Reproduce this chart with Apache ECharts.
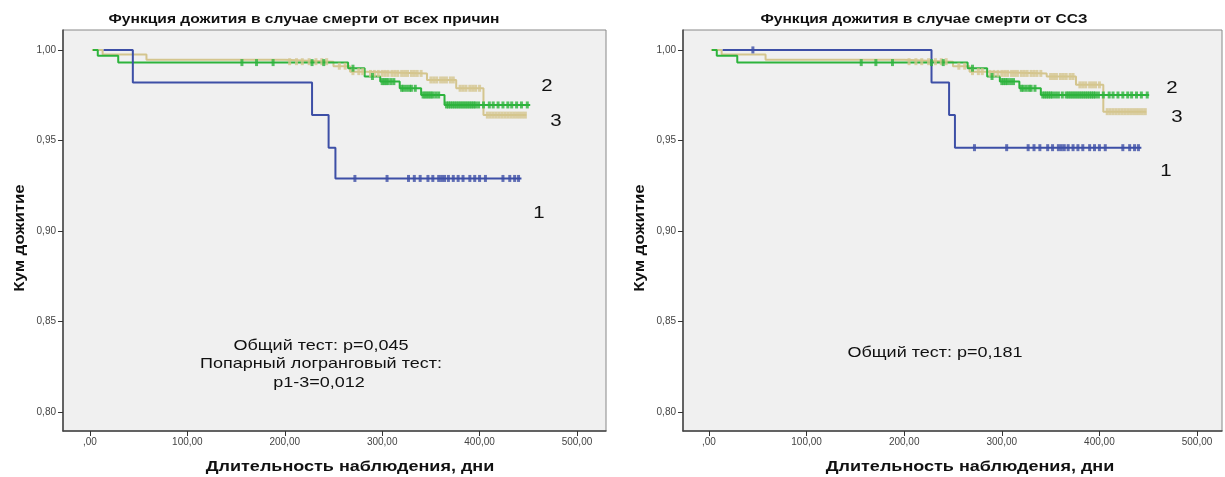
<!DOCTYPE html>
<html>
<head>
<meta charset="utf-8">
<script src="https://cdn.jsdelivr.net/npm/echarts@6/dist/echarts.min.js"></script>
<style>
html,body{margin:0;padding:0;background:#fff;}
#c{width:1225px;height:477px;}
</style>
</head>
<body>
<div id="c"></div>
<script>
// ---- Data (days, cumulative survival) ----
const xTicks = [0, 100, 200, 300, 400, 500];
const yTicks = [0.80, 0.85, 0.90, 0.95, 1.00];

// Left panel: all-cause death
const leftBlueT = [14, 44, 228, 245, 252, 443];
const leftBlueS = [1.000, 0.982, 0.964, 0.946, 0.929, 0.929];
const leftBlueCens = [272, 305, 327, 333, 339, 347, 352, 358, 361, 364, 368, 373, 378, 383, 390, 395, 400, 406, 424, 431, 436, 440];

const leftGreenT = [3, 8, 29, 265, 282, 298, 318, 340, 364, 452];
const leftGreenS = [1.000, 0.9968, 0.993, 0.9899, 0.9853, 0.9825, 0.9788, 0.9751, 0.9696, 0.9696];
const leftGreenCens = [156, 171, 188, 228, 240, 270, 290, 300, 302, 304, 306, 309, 312, 320, 322, 325, 328, 330, 334, 342, 344, 346, 348, 350, 352, 355, 358, 366, 368, 370, 372, 374, 376, 378, 380, 382, 384, 386, 388, 390, 392, 394, 396, 399, 404, 410, 414, 419, 424, 429, 433, 438, 443, 449];

const leftTanT = [2, 13, 58, 200, 250, 267, 284, 346, 376, 404, 448];
const leftTanS = [1.000, 0.9975, 0.9945, 0.9935, 0.991, 0.988, 0.987, 0.9834, 0.9788, 0.964, 0.964];
const leftTanCens = [205, 212, 218, 225, 232, 238, 243, 256, 262, 270, 276, 280, 288, 292, 296, 300, 303, 306, 310, 313, 316, 320, 323, 326, 330, 333, 336, 340, 350, 353, 356, 360, 363, 366, 370, 373, 380, 383, 386, 390, 393, 396, 400, 408, 411, 414, 417, 420, 423, 426, 429, 432, 435, 438, 441, 444, 447];

// Right panel: CVD death
const rightBlueT = [14, 228, 246, 252, 443];
const rightBlueS = [1.000, 0.982, 0.964, 0.946, 0.946];
const rightBlueCens = [45, 272, 305, 327, 333, 339, 347, 352, 358, 361, 364, 368, 373, 378, 383, 390, 395, 400, 406, 424, 431, 436, 440];

const rightGreenT = [3, 8, 29, 265, 285, 298, 318, 340, 451];
const rightGreenS = [1.000, 0.9968, 0.993, 0.9899, 0.9853, 0.9825, 0.9788, 0.9751, 0.9751];
const rightGreenCens = [156, 171, 188, 228, 240, 270, 290, 300, 302, 304, 306, 309, 312, 320, 322, 325, 328, 330, 334, 342, 344, 346, 348, 350, 352, 355, 358, 362, 366, 368, 370, 372, 374, 376, 378, 380, 382, 384, 386, 388, 390, 392, 394, 396, 399, 404, 410, 414, 419, 424, 429, 433, 438, 443, 449];

const rightTanT = [2, 13, 58, 200, 250, 267, 284, 346, 376, 404, 448];
const rightTanS = [1.000, 0.9975, 0.9945, 0.9935, 0.991, 0.988, 0.987, 0.9853, 0.9807, 0.9659, 0.9659];
const rightTanCens = [205, 212, 218, 225, 232, 238, 243, 256, 262, 270, 276, 280, 288, 292, 296, 300, 303, 306, 310, 313, 316, 320, 323, 326, 330, 333, 336, 340, 350, 353, 356, 360, 363, 366, 370, 373, 380, 383, 386, 390, 393, 396, 400, 408, 411, 414, 417, 420, 423, 426, 429, 432, 435, 438, 441, 444, 447];

// ---- helpers ----
const BLUE = '#3d4fa6', GREEN = '#2db33c', TAN = '#d4c58e';
function stepAt(T, S, t) {
  let v = S[0];
  for (let i = 0; i < T.length; i++) { if (T[i] <= t) v = S[i]; }
  return v;
}
function curve(T, S, color, idx) {
  return {
    type: 'line', step: 'end', xAxisIndex: idx, yAxisIndex: idx,
    data: T.map((t, i) => [t, S[i]]), symbol: 'none',
    lineStyle: { color: color, width: 2 }, animation: false, z: 3
  };
}
function cens(T, S, C, color, idx) {
  return {
    type: 'scatter', xAxisIndex: idx, yAxisIndex: idx,
    data: C.map(t => [t, stepAt(T, S, t)]),
    symbol: 'rect', symbolSize: [3, 7],
    itemStyle: { color: color }, animation: false, z: 4
  };
}
const fmtX = v => v === 0 ? ',00' : v.toFixed(2).replace('.', ',');
const fmtY = v => v.toFixed(2).replace('.', ',');
function xAx(idx, min, max) {
  return {
    gridIndex: idx, type: 'value', min: min, max: max,
    axisLine: { show: true, onZero: false, lineStyle: { color: '#444', width: 1.5 } },
    axisTick: { show: true, customValues: xTicks, length: 5, lineStyle: { color: '#333' } },
    axisLabel: { customValues: xTicks, formatter: fmtX, color: '#444', fontSize: 10, fontFamily: 'Liberation Sans', margin: 6 },
    splitLine: { show: false }
  };
}
function yAx(idx) {
  return {
    gridIndex: idx, type: 'value', min: 0.7895, max: 1.011,
    axisLine: { show: true, onZero: false, lineStyle: { color: '#444', width: 1.5 } },
    axisTick: { show: true, customValues: yTicks, length: 5, lineStyle: { color: '#333' } },
    axisLabel: { customValues: yTicks, formatter: fmtY, color: '#444', fontSize: 10, fontFamily: 'Liberation Sans', margin: 7 },
    splitLine: { show: false }
  };
}
function txt(x, y, s, size, bold, rot, sx) {
  return {
    type: 'text', x: x, y: y, rotation: rot || 0, scaleX: sx || 1.2,
    style: { text: s, fontSize: size, fontWeight: bold ? 'bold' : 'normal', fontFamily: 'Liberation Sans',
      fill: '#111', textAlign: 'center', textVerticalAlign: 'middle' }
  };
}

const chart = echarts.init(document.getElementById('c'), null, { renderer: 'canvas' });
chart.setOption({
  backgroundColor: '#fff',
  animation: false,
  grid: [
    { left: 63, top: 30, width: 543, height: 401, show: true, backgroundColor: '#f0f0f0', borderColor: '#888', borderWidth: 1 },
    { left: 683, top: 30, width: 539, height: 401, show: true, backgroundColor: '#f0f0f0', borderColor: '#888', borderWidth: 1 }
  ],
  xAxis: [xAx(0, -27.7, 529.8), xAx(1, -26.6, 525.6)],
  yAxis: [yAx(0), yAx(1)],
  series: [
    curve(leftTanT, leftTanS, TAN, 0), cens(leftTanT, leftTanS, leftTanCens, TAN, 0),
    curve(leftGreenT, leftGreenS, GREEN, 0), cens(leftGreenT, leftGreenS, leftGreenCens, GREEN, 0),
    curve(leftBlueT, leftBlueS, BLUE, 0), cens(leftBlueT, leftBlueS, leftBlueCens, BLUE, 0),
    curve(rightTanT, rightTanS, TAN, 1), cens(rightTanT, rightTanS, rightTanCens, TAN, 1),
    curve(rightGreenT, rightGreenS, GREEN, 1), cens(rightGreenT, rightGreenS, rightGreenCens, GREEN, 1),
    curve(rightBlueT, rightBlueS, BLUE, 1), cens(rightBlueT, rightBlueS, rightBlueCens, BLUE, 1)
  ],
  graphic: [
    txt(304, 19, 'Функция дожития в случае смерти от всех причин', 13, true),
    txt(924, 19, 'Функция дожития в случае смерти от ССЗ', 13, true),
    txt(20, 238, 'Кум дожитие', 14, true, Math.PI / 2),
    txt(640, 238, 'Кум дожитие', 14, true, Math.PI / 2),
    txt(350, 467, 'Длительность наблюдения, дни', 15, true),
    txt(970, 467, 'Длительность наблюдения, дни', 15, true),
    txt(321, 346, 'Общий тест: p=0,045', 15, false),
    txt(321, 364, 'Попарный логранговый тест:', 15, false),
    txt(319, 383, 'p1-3=0,012', 15, false),
    txt(935, 353, 'Общий тест: p=0,181', 15, false),
    txt(547, 86, '2', 17, false), txt(556, 121, '3', 17, false), txt(539, 213, '1', 17, false),
    txt(1172, 88, '2', 17, false), txt(1177, 117, '3', 17, false), txt(1166, 171, '1', 17, false)
  ]
});
</script>
</body>
</html>
